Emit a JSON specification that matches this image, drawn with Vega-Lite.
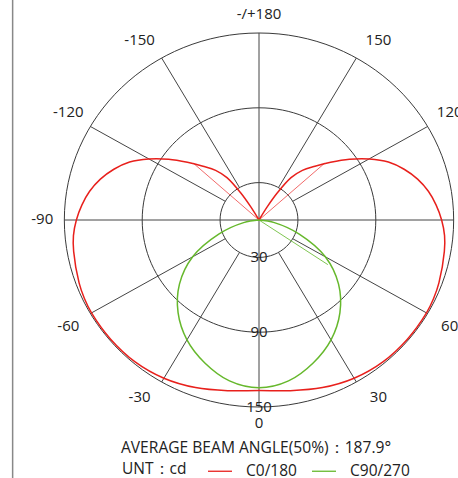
{
  "$schema": "https://vega.github.io/schema/vega-lite/v6.json",
  "width": 398,
  "height": 400,
  "autosize": {"type": "none"},
  "padding": {"left": 60, "top": 20, "right": 0, "bottom": 58},
  "background": "white",
  "config": {"view": {"stroke": null}, "font": "Open Sans"},
  "title": {"text": "AVERAGE BEAM ANGLE(50%)：187.9°", "orient": "bottom", "anchor": "middle", "frame": "group", "offset": -39, "dx": -3, "fontSize": 15.6, "fontWeight": "normal", "color": "#222", "font": "Open Sans"},
  "datasets": {
    "curves": [
      {"s": "C0/180", "a": -150, "r": 0}, {"s": "C0/180", "a": -149, "r": 12}, {"s": "C0/180", "a": -147, "r": 26},
      {"s": "C0/180", "a": -144, "r": 42}, {"s": "C0/180", "a": -140, "r": 52}, {"s": "C0/180", "a": -135, "r": 61},
      {"s": "C0/180", "a": -130, "r": 72}, {"s": "C0/180", "a": -125, "r": 85}, {"s": "C0/180", "a": -120, "r": 98},
      {"s": "C0/180", "a": -115, "r": 110}, {"s": "C0/180", "a": -110, "r": 119}, {"s": "C0/180", "a": -105, "r": 126.5},
      {"s": "C0/180", "a": -100, "r": 132.5}, {"s": "C0/180", "a": -95, "r": 137}, {"s": "C0/180", "a": -90, "r": 140.7},
      {"s": "C0/180", "a": -85, "r": 143.5}, {"s": "C0/180", "a": -80, "r": 145}, {"s": "C0/180", "a": -70, "r": 147.5},
      {"s": "C0/180", "a": -65, "r": 148.5}, {"s": "C0/180", "a": -60, "r": 149}, {"s": "C0/180", "a": -50, "r": 149},
      {"s": "C0/180", "a": -40, "r": 148.5}, {"s": "C0/180", "a": -30, "r": 146.5}, {"s": "C0/180", "a": -20, "r": 143},
      {"s": "C0/180", "a": -10, "r": 139}, {"s": "C0/180", "a": 0, "r": 136.7},
      {"s": "C0/180", "a": 10, "r": 139}, {"s": "C0/180", "a": 20, "r": 143}, {"s": "C0/180", "a": 30, "r": 146.5},
      {"s": "C0/180", "a": 40, "r": 148.5}, {"s": "C0/180", "a": 50, "r": 149}, {"s": "C0/180", "a": 60, "r": 149},
      {"s": "C0/180", "a": 65, "r": 148.5}, {"s": "C0/180", "a": 70, "r": 147.5}, {"s": "C0/180", "a": 80, "r": 145},
      {"s": "C0/180", "a": 85, "r": 143.5}, {"s": "C0/180", "a": 90, "r": 140.7}, {"s": "C0/180", "a": 95, "r": 137},
      {"s": "C0/180", "a": 100, "r": 132.5}, {"s": "C0/180", "a": 105, "r": 126.5}, {"s": "C0/180", "a": 110, "r": 119},
      {"s": "C0/180", "a": 115, "r": 110}, {"s": "C0/180", "a": 120, "r": 98}, {"s": "C0/180", "a": 125, "r": 85},
      {"s": "C0/180", "a": 130, "r": 72}, {"s": "C0/180", "a": 135, "r": 61}, {"s": "C0/180", "a": 140, "r": 52},
      {"s": "C0/180", "a": 144, "r": 42}, {"s": "C0/180", "a": 147, "r": 26}, {"s": "C0/180", "a": 149, "r": 12},
      {"s": "C0/180", "a": 150, "r": 0},
      {"s": "C90/270", "a": -90, "r": 0}, {"s": "C90/270", "a": -80, "r": 12}, {"s": "C90/270", "a": -70, "r": 33},
      {"s": "C90/270", "a": -60, "r": 59}, {"s": "C90/270", "a": -50, "r": 80}, {"s": "C90/270", "a": -40, "r": 97},
      {"s": "C90/270", "a": -30, "r": 111}, {"s": "C90/270", "a": -20, "r": 122}, {"s": "C90/270", "a": -10, "r": 131},
      {"s": "C90/270", "a": 0, "r": 134.5}, {"s": "C90/270", "a": 10, "r": 131}, {"s": "C90/270", "a": 20, "r": 122},
      {"s": "C90/270", "a": 30, "r": 111}, {"s": "C90/270", "a": 40, "r": 97}, {"s": "C90/270", "a": 50, "r": 80},
      {"s": "C90/270", "a": 60, "r": 59}, {"s": "C90/270", "a": 70, "r": 33}, {"s": "C90/270", "a": 80, "r": 12},
      {"s": "C90/270", "a": 90, "r": 0}
    ],
    "redThin": [
      {"g": "L", "i": 0, "a": -132, "r": 0}, {"g": "L", "i": 1, "a": -132, "r": 68},
      {"g": "R", "i": 0, "a": 132, "r": 0}, {"g": "R", "i": 1, "a": 132, "r": 68}
    ],
    "greenThin": [
      {"g": "R", "i": 0, "a": 56, "r": 0}, {"g": "R", "i": 1, "a": 56, "r": 64}
    ],
    "rings": [{"r": 30}, {"r": 90}, {"r": 150}],
    "spokes": [
      {"a": 30, "r1": 30, "r2": 150}, {"a": 60, "r1": 30, "r2": 150}, {"a": 120, "r1": 30, "r2": 150}, {"a": 150, "r1": 30, "r2": 150},
      {"a": -30, "r1": 30, "r2": 150}, {"a": -60, "r1": 30, "r2": 150}, {"a": -120, "r1": 30, "r2": 150}, {"a": -150, "r1": 30, "r2": 150},
      {"a": 0, "r1": -150, "r2": 150}, {"a": 90, "r1": -150, "r2": 150}
    ],
    "angleLabels": [
      {"a": 0, "t": "0"}, {"a": 30, "t": "30"}, {"a": 60, "t": "60"}, {"a": 90, "t": "90"}, {"a": 120, "t": "120"},
      {"a": 150, "t": "150"}, {"a": 180, "t": "-/+180"}, {"a": -30, "t": "-30"}, {"a": -60, "t": "-60"},
      {"a": -90, "t": "-90"}, {"a": -120, "t": "-120"}, {"a": -150, "t": "-150"}
    ],
    "radialLabels": [{"r": 30, "t": "30"}, {"r": 90, "t": "90"}, {"r": 150, "t": "150"}]
  },
  "layer": [
    {
      "data": {"name": "rings"},
      "mark": {"type": "point", "shape": "M -1.041 0 A 1.041 1 0 1 0 1.041 0 A 1.041 1 0 1 0 -1.041 0 Z", "filled": false, "color": "#3a3a3a", "strokeWidth": 1, "opacity": 1},
      "encoding": {
        "x": {"datum": 0, "type": "quantitative", "scale": {"domain": [-153.31, 153.31], "nice": false, "zero": false}, "axis": null},
        "y": {"datum": 0, "type": "quantitative", "scale": {"domain": [-160.38, 160.38], "nice": false, "zero": false}, "axis": null},
        "size": {"field": "r", "type": "quantitative", "scale": {"type": "pow", "exponent": 2, "domain": [0, 150], "range": [0, 139876]}, "legend": null}
      }
    },
    {
      "data": {"name": "spokes"},
      "transform": [
        {"calculate": "datum.r1*sin(datum.a*PI/180)", "as": "px"},
        {"calculate": "-datum.r1*cos(datum.a*PI/180)", "as": "py"},
        {"calculate": "datum.r2*sin(datum.a*PI/180)", "as": "px2"},
        {"calculate": "-datum.r2*cos(datum.a*PI/180)", "as": "py2"}
      ],
      "mark": {"type": "rule", "color": "#444", "strokeWidth": 1},
      "encoding": {
        "x": {"field": "px", "type": "quantitative", "axis": null},
        "y": {"field": "py", "type": "quantitative", "axis": null},
        "x2": {"field": "px2"},
        "y2": {"field": "py2"}
      }
    },
    {
      "data": {"values": [{}]},
      "mark": {"type": "rule", "color": "#888", "strokeWidth": 1.5},
      "encoding": {
        "x": {"datum": -189.8, "type": "quantitative", "axis": null},
        "y": {"datum": 176.4, "type": "quantitative", "axis": null},
        "y2": {"datum": -207}
      }
    },
    {
      "data": {"name": "redThin"},
      "transform": [
        {"calculate": "datum.r*sin(datum.a*PI/180)", "as": "px"},
        {"calculate": "-datum.r*cos(datum.a*PI/180)", "as": "py"}
      ],
      "mark": {"type": "line", "color": "#f26a6a", "strokeWidth": 1},
      "encoding": {
        "x": {"field": "px", "type": "quantitative", "axis": null},
        "y": {"field": "py", "type": "quantitative", "axis": null},
        "detail": {"field": "g"},
        "order": {"field": "i", "type": "quantitative"}
      }
    },
    {
      "data": {"name": "greenThin"},
      "transform": [
        {"calculate": "datum.r*sin(datum.a*PI/180)", "as": "px"},
        {"calculate": "-datum.r*cos(datum.a*PI/180)", "as": "py"}
      ],
      "mark": {"type": "line", "color": "#7fc652", "strokeWidth": 1},
      "encoding": {
        "x": {"field": "px", "type": "quantitative", "axis": null},
        "y": {"field": "py", "type": "quantitative", "axis": null},
        "detail": {"field": "g"},
        "order": {"field": "i", "type": "quantitative"}
      }
    },
    {
      "data": {"name": "curves"},
      "transform": [
        {"calculate": "datum.r*sin(datum.a*PI/180)", "as": "px"},
        {"calculate": "-datum.r*cos(datum.a*PI/180)", "as": "py"}
      ],
      "mark": {"type": "line", "strokeWidth": 1.5, "interpolate": "catmull-rom"},
      "encoding": {
        "x": {"field": "px", "type": "quantitative", "axis": null},
        "y": {"field": "py", "type": "quantitative", "axis": null},
        "order": {"field": "a", "type": "quantitative"},
        "color": {
          "field": "s", "type": "nominal",
          "scale": {"domain": ["C0/180", "C90/270"], "range": ["#e8201c", "#66b82c"]},
          "legend": {
            "orient": "none", "legendX": 62, "legendY": 438, "direction": "horizontal",
            "title": "UNT：cd", "titleOrient": "left", "titleFontSize": 15.5, "titleFontWeight": "normal",
            "titleFont": "Open Sans", "titleColor": "#222", "titlePadding": 20,
            "labelFontSize": 15.5, "labelFont": "Open Sans", "labelColor": "#222", "labelOffset": 13,
            "symbolType": "stroke", "symbolSize": 576, "symbolStrokeWidth": 1.3, "columnPadding": 12
          }
        }
      }
    },
    {
      "data": {"name": "angleLabels"},
      "transform": [
        {"calculate": "150*sin(datum.a*PI/180) + 17*(sin(datum.a*PI/180) > 0.01 ? 1 : (sin(datum.a*PI/180) < -0.01 ? -1 : 0))", "as": "px"},
        {"calculate": "-(156*cos(datum.a*PI/180) + 8*(cos(datum.a*PI/180) > 0.01 ? 1 : (cos(datum.a*PI/180) < -0.01 ? -1 : 0))) + 1", "as": "py"}
      ],
      "mark": {"type": "text", "fontSize": 15, "color": "#222", "align": "center", "baseline": "middle", "font": "Open Sans"},
      "encoding": {
        "x": {"field": "px", "type": "quantitative", "axis": null},
        "y": {"field": "py", "type": "quantitative", "axis": null},
        "text": {"field": "t"}
      }
    },
    {
      "data": {"name": "radialLabels"},
      "transform": [
        {"calculate": "-datum.r", "as": "py"}
      ],
      "mark": {"type": "text", "fontSize": 15, "color": "#222", "align": "center", "baseline": "middle", "font": "Open Sans"},
      "encoding": {
        "x": {"datum": 0, "type": "quantitative", "axis": null},
        "y": {"field": "py", "type": "quantitative", "axis": null},
        "text": {"field": "t"}
      }
    }
  ]
}
